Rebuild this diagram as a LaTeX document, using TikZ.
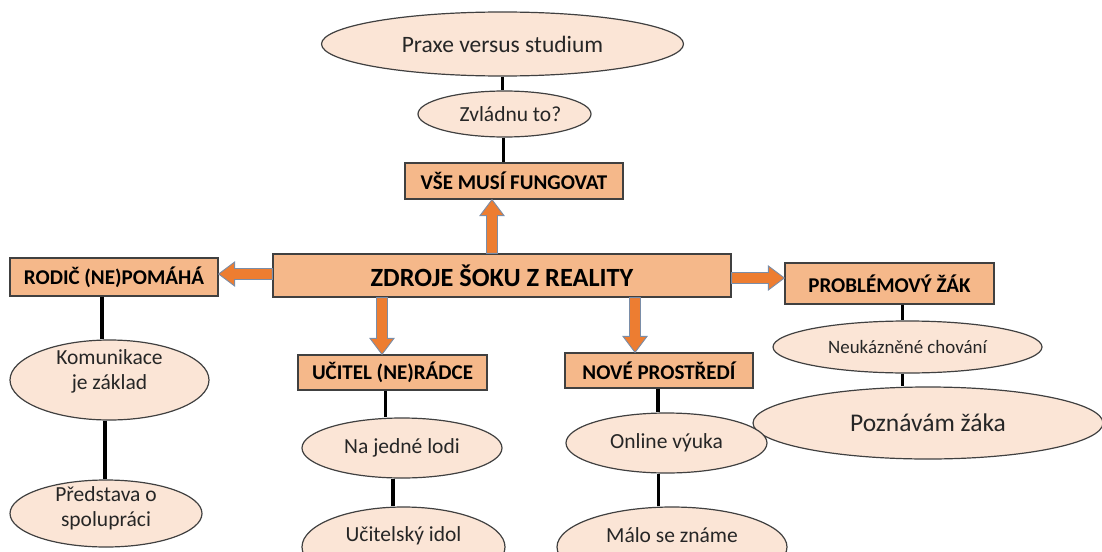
\documentclass[tikz,border=0pt]{standalone}
\usepackage{fontspec}
\setmainfont{Carlito}
\usetikzlibrary{shapes.geometric,calc}
\definecolor{boxfill}{HTML}{F5B88A}
\definecolor{ellfill}{HTML}{FBE5D6}
\definecolor{arrfill}{HTML}{ED7D31}
\definecolor{arrline}{HTML}{7A8DA8}
\definecolor{edge}{HTML}{404040}
\definecolor{txt}{HTML}{262626}
\tikzset{
  headbox/.style={rectangle, draw=edge, line width=1.2pt, fill=boxfill, inner sep=0pt, text=black, font=\bfseries\fontsize{21}{22}\selectfont},
  oval/.style={ellipse, draw=edge, line width=1.2pt, fill=ellfill, inner sep=0pt, text=txt, align=center, font=\fontsize{21.5}{25}\selectfont},
  link/.style={draw=black, line width=3.2pt},
  barrow/.style={fill=arrfill, draw=arrline, line width=0.9pt, line join=miter}
}
% place text with its (last) baseline #1 below the node centre, with no size of its own
\newcommand\liftto[2]{\raisebox{#1}[0pt][0pt]{\setlength{\tabcolsep}{0pt}\begin{tabular}[b]{c}#2\end{tabular}}}
\newcommand\blockarrow[2]{%
  \draw[barrow] let \p1=(#1), \p2=(#2), \n1={veclen(\x2-\x1,\y2-\y1)}, \n2={atan2(\y2-\y1,\x2-\x1)} in
   [shift={(\p1)}, rotate=\n2] (0pt,-5.5pt) -- ({\n1*1pt-16pt},-5.5pt) -- ({\n1*1pt-16pt},-12pt) -- ({\n1*1pt},0pt)
   -- ({\n1*1pt-16pt},12pt) -- ({\n1*1pt-16pt},5.5pt) -- (0pt,5.5pt) -- cycle;}
\begin{document}
\begin{tikzpicture}[x=1pt,y=-1pt]
\useasboundingbox (0,0) rectangle (1102,551);
\clip (0,0) rectangle (1102,551);
% central
\node[headbox, minimum width=458pt, minimum height=43pt, font=\bfseries\fontsize{26.3}{28}\selectfont] (c) at (502,275.5) {ZDROJE ŠOKU Z REALITY};
% top branch
\node[headbox, minimum width=218pt, minimum height=36pt] (v) at (514,181) {VŠE MUSÍ FUNGOVAT};
\node[oval, minimum width=173pt, minimum height=46pt] (zv) at (504.5,114) {\hspace*{12pt}Zvládnu to?};
\node[oval, minimum width=362pt, minimum height=64pt, font=\fontsize{23.5}{28}\selectfont] (px) at (502.5,44) {Praxe versus studium};
% left branch
\node[headbox, minimum width=208pt, minimum height=38pt] (r) at (114,277) {RODIČ (NE)POMÁHÁ};
\node[oval, minimum width=199pt, minimum height=80pt] (k) at (109.5,380) {\liftto{-9pt}{Komunikace\\je základ}};
\node[oval, minimum width=192pt, minimum height=67pt] (p) at (106,513.5) {\liftto{-13pt}{Představa o\\spolupráci}};
% right branch
\node[headbox, minimum width=209pt, minimum height=41pt] (pz) at (889.5,283.5) {PROBLÉMOVÝ ŽÁK};
\node[oval, minimum width=269pt, minimum height=52pt, font=\fontsize{18.9}{22}\selectfont] (n) at (907.5,347) {Neukázněné chování};
\node[oval, minimum width=350pt, minimum height=72pt, font=\fontsize{25.5}{30}\selectfont] (pzn) at (928,423) {Poznávám žáka};
% lower left branch
\node[headbox, minimum width=189pt, minimum height=35pt] (u) at (392.5,372.5) {UČITEL (NE)RÁDCE};
\node[oval, minimum width=200pt, minimum height=60pt] (nl) at (402,448) {Na jedné lodi};
\node[oval, minimum width=203pt, minimum height=80pt] (ui) at (403.5,547) {\liftto{6pt}{Učitelský idol}};
% lower right branch
\node[headbox, minimum width=188pt, minimum height=35pt] (nv) at (659,370.5) {NOVÉ PROSTŘEDÍ};
\node[oval, minimum width=201pt, minimum height=60pt] (ov) at (666.5,443) {Online výuka};
\node[oval, minimum width=230pt, minimum height=80pt] (ms) at (672,547) {\liftto{5pt}{Málo se známe}};
% links
\draw[link] (px.south) -- (px.south |- zv.north);
\draw[link] ([xshift=-1pt]zv.south) -- ([xshift=-1pt]zv.south |- v.north);
\draw[link] ([xshift=-12pt]r.south) -- ([xshift=-12pt]r.south |- k.north);
\draw[link] ([xshift=-1pt]p.north |- k.south) -- ([xshift=-1pt]p.north);
\draw[link] ([xshift=-5pt]n.north |- pz.south) -- ([xshift=-5pt]n.north);
\draw[link] ([xshift=-5pt]n.south) -- ([xshift=-5pt]n.south |- pzn.north);
\draw[link] ([xshift=-7pt]u.south) -- ([xshift=-7pt]u.south |- nl.north);
\draw[link] ([xshift=-9pt]nl.south) -- ([xshift=-9pt]nl.south |- ui.north);
\draw[link] ([xshift=-1pt]nv.south) -- ([xshift=-1pt]nv.south |- ov.north);
\draw[link] ([xshift=-8pt]ov.south) -- ([xshift=-8pt]ov.south |- ms.north);
% block arrows
\coordinate (upS) at ([xshift=-10pt]c.north);
\coordinate (upE) at (upS |- v.south);
\coordinate (lfS) at ([yshift=1.5pt]c.west);
\coordinate (lfE) at (lfS -| r.east);
\coordinate (rtS) at ([yshift=-2.5pt]c.east);
\coordinate (rtE) at (rtS -| pz.west);
\coordinate (dlS) at ([xshift=-120pt]c.south);
\coordinate (dlE) at (dlS |- u.north);
\coordinate (drS) at ([xshift=133pt]c.south);
\coordinate (drE) at (drS |- nv.north);
\blockarrow{upS}{upE}
\blockarrow{lfS}{lfE}
\blockarrow{rtS}{rtE}
\blockarrow{dlS}{dlE}
\blockarrow{drS}{drE}
\end{tikzpicture}
\end{document}
